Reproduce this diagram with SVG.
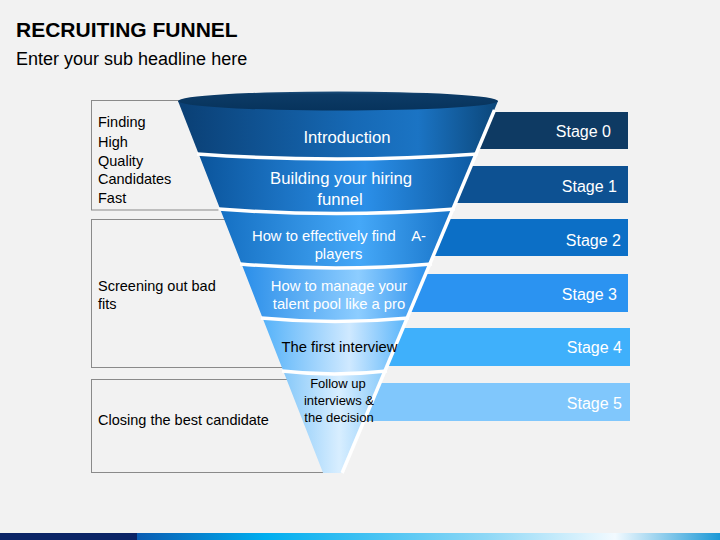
<svg xmlns="http://www.w3.org/2000/svg" width="720" height="540" viewBox="0 0 720 540">
<defs>
<style>
text{font-family:"Liberation Sans",Arial,sans-serif;}
.title{font-size:21px;font-weight:bold;fill:#000;}
.sub{font-size:18px;fill:#000;}
.lbl{font-size:14.5px;fill:#000;}
.box{fill:none;stroke:#8a8a8a;stroke-width:1;}
.stg{font-size:16px;fill:#fff;text-anchor:end;}
.ft{text-anchor:middle;fill:#fff;}
.big{font-size:16.7px;}
.mid{font-size:14.8px;}
.sm{font-size:13px;}
.dk{fill:#000;}
.sep{fill:none;stroke:#ffffff;stroke-width:3.5;}
</style>
<linearGradient id="g0" x1="0" y1="0" x2="1" y2="0">
<stop offset="0" stop-color="#0a3f74"/><stop offset="0.55" stop-color="#1669b5"/><stop offset="0.75" stop-color="#1b74c4"/><stop offset="1" stop-color="#0b4679"/>
</linearGradient>
<linearGradient id="g1" x1="0" y1="0" x2="1" y2="0">
<stop offset="0" stop-color="#0b559c"/><stop offset="0.6" stop-color="#2b8fe8"/><stop offset="1" stop-color="#0d5aa2"/>
</linearGradient>
<linearGradient id="g2" x1="0" y1="0" x2="1" y2="0">
<stop offset="0" stop-color="#1570c3"/><stop offset="0.6" stop-color="#45a8f8"/><stop offset="1" stop-color="#1874c8"/>
</linearGradient>
<linearGradient id="g3" x1="0" y1="0" x2="1" y2="0">
<stop offset="0" stop-color="#2a8ee9"/><stop offset="0.62" stop-color="#8dcdff"/><stop offset="1" stop-color="#2b90ec"/>
</linearGradient>
<linearGradient id="g4" x1="0" y1="0" x2="1" y2="0">
<stop offset="0" stop-color="#55b2f9"/><stop offset="0.6" stop-color="#cfe9ff"/><stop offset="1" stop-color="#58b4fa"/>
</linearGradient>
<linearGradient id="g5" x1="0" y1="0" x2="1" y2="0">
<stop offset="0" stop-color="#86c8f9"/><stop offset="0.55" stop-color="#d8eeff"/><stop offset="1" stop-color="#8bcbfa"/>
</linearGradient>
<linearGradient id="gtop" x1="0" y1="0" x2="0" y2="1">
<stop offset="0" stop-color="#1d4f7c"/><stop offset="0.15" stop-color="#0c3b66"/><stop offset="1" stop-color="#07335c"/>
</linearGradient>
<linearGradient id="gbar" x1="137" y1="0" x2="720" y2="0" gradientUnits="userSpaceOnUse">
<stop offset="0" stop-color="#0a5cb2"/><stop offset="0.22" stop-color="#00aeef"/><stop offset="0.6" stop-color="#8fd8f6"/><stop offset="0.82" stop-color="#f2faff"/><stop offset="1" stop-color="#1b98d6"/>
</linearGradient>
</defs>
<rect x="0" y="0" width="720" height="540" fill="#f2f2f2"/>
<text class="title" x="16" y="36.5">RECRUITING FUNNEL</text>
<text class="sub" x="16" y="65">Enter your sub headline here</text>
<g id="box-finding">
<rect class="box" x="91.5" y="100.5" width="240" height="109.5"/>
<text class="lbl" x="98" y="127.3">Finding</text>
<text class="lbl" x="98" y="146.5">High</text>
<text class="lbl" x="98" y="165.5">Quality</text>
<text class="lbl" x="98" y="184.3">Candidates</text>
<text class="lbl" x="98" y="203.3">Fast</text>
</g>
<g id="box-screening">
<rect class="box" x="91.5" y="219.5" width="240" height="148"/>
<text class="lbl" x="98" y="291">Screening out bad</text>
<text class="lbl" x="98" y="309.3">fits</text>
</g>
<g id="box-closing">
<rect class="box" x="91.5" y="379.5" width="240" height="93"/>
<text class="lbl" x="98" y="425">Closing the best candidate</text>
</g>
<g id="stage0"><rect x="350" y="112" width="278" height="37" fill="#0e3a63"/><text class="stg" x="611" y="136.7">Stage 0</text></g>
<g id="stage1"><rect x="350" y="166" width="278" height="37" fill="#0d5192"/><text class="stg" x="617" y="191.7">Stage 1</text></g>
<g id="stage2"><rect x="350" y="219" width="278" height="37" fill="#0c6fc6"/><text class="stg" x="621" y="246">Stage 2</text></g>
<g id="stage3"><rect x="350" y="274" width="278" height="38" fill="#2b93f1"/><text class="stg" x="617" y="300">Stage 3</text></g>
<g id="stage4"><rect x="350" y="328" width="280" height="38" fill="#3fb0fb"/><text class="stg" x="622" y="352.7">Stage 4</text></g>
<g id="stage5"><rect x="350" y="383" width="280" height="38" fill="#80c7fc"/><text class="stg" x="622" y="409.3">Stage 5</text></g>
<g id="band0">
<path d="M178,101 L198.7,154 Q337.25,164 475.8,154 L498,101 Z" fill="url(#g0)"/>
<ellipse cx="338" cy="101" rx="160" ry="9.5" fill="url(#gtop)"/>
</g>
<g id="band1"><path d="M198.7,154 Q337.25,164 475.8,154 L452.7,209 Q336.4,218 220.1,209 Z" fill="url(#g1)"/></g>
<g id="band2"><path d="M220.1,209 Q336.4,218 452.7,209 L429.7,264 Q335.65,272 241.6,264 Z" fill="url(#g2)"/></g>
<g id="band3"><path d="M241.6,264 Q335.65,272 429.7,264 L407.1,318 Q334.85,325 262.6,318 Z" fill="url(#g3)"/></g>
<g id="band4"><path d="M262.6,318 Q334.85,325 407.1,318 L384.9,371 Q334.1,377 283.3,371 Z" fill="url(#g4)"/></g>
<g id="band5"><path d="M283.3,371 Q334.1,377 384.9,371 L342.1,473 L323.1,473 Z" fill="url(#g5)"/></g>
<g id="connectors">
<path class="sep" d="M197,154 Q337.25,164 478,154"/>
<path class="sep" d="M218.5,209 Q336.4,218 455,209"/>
<path class="sep" d="M240,264 Q335.65,272 432,264"/>
<path class="sep" d="M261,318 Q334.85,325 409,318"/>
<path class="sep" d="M282,371 Q334.1,377 387,371"/>
<path class="sep" stroke-width="3" d="M494.5,110 L342.1,473"/>
</g>
<g id="labels">
<text class="ft big" x="347" y="142.7">Introduction</text>
<text class="ft big" x="341" y="184.3">Building your hiring</text>
<text class="ft big" x="340" y="205">funnel</text>
<text class="ft mid" x="339" y="240.7" style="white-space:pre">How to effectively find    A-</text>
<text class="ft mid" x="338.5" y="259">players</text>
<text class="ft mid" x="339" y="291">How to manage your</text>
<text class="ft mid" x="339" y="309.3">talent pool like a pro</text>
<text class="ft mid dk" x="339.5" y="351.7">The first interview</text>
<text class="ft sm dk" x="338" y="388.3">Follow up</text>
<text class="ft sm dk" x="339" y="405">interviews &amp;</text>
<text class="ft sm dk" x="339" y="421.7">the decision</text>
</g>
<rect x="0" y="533" width="137" height="7" fill="#0b2466"/>
<rect x="137" y="533" width="583" height="7" fill="url(#gbar)"/>
</svg>
